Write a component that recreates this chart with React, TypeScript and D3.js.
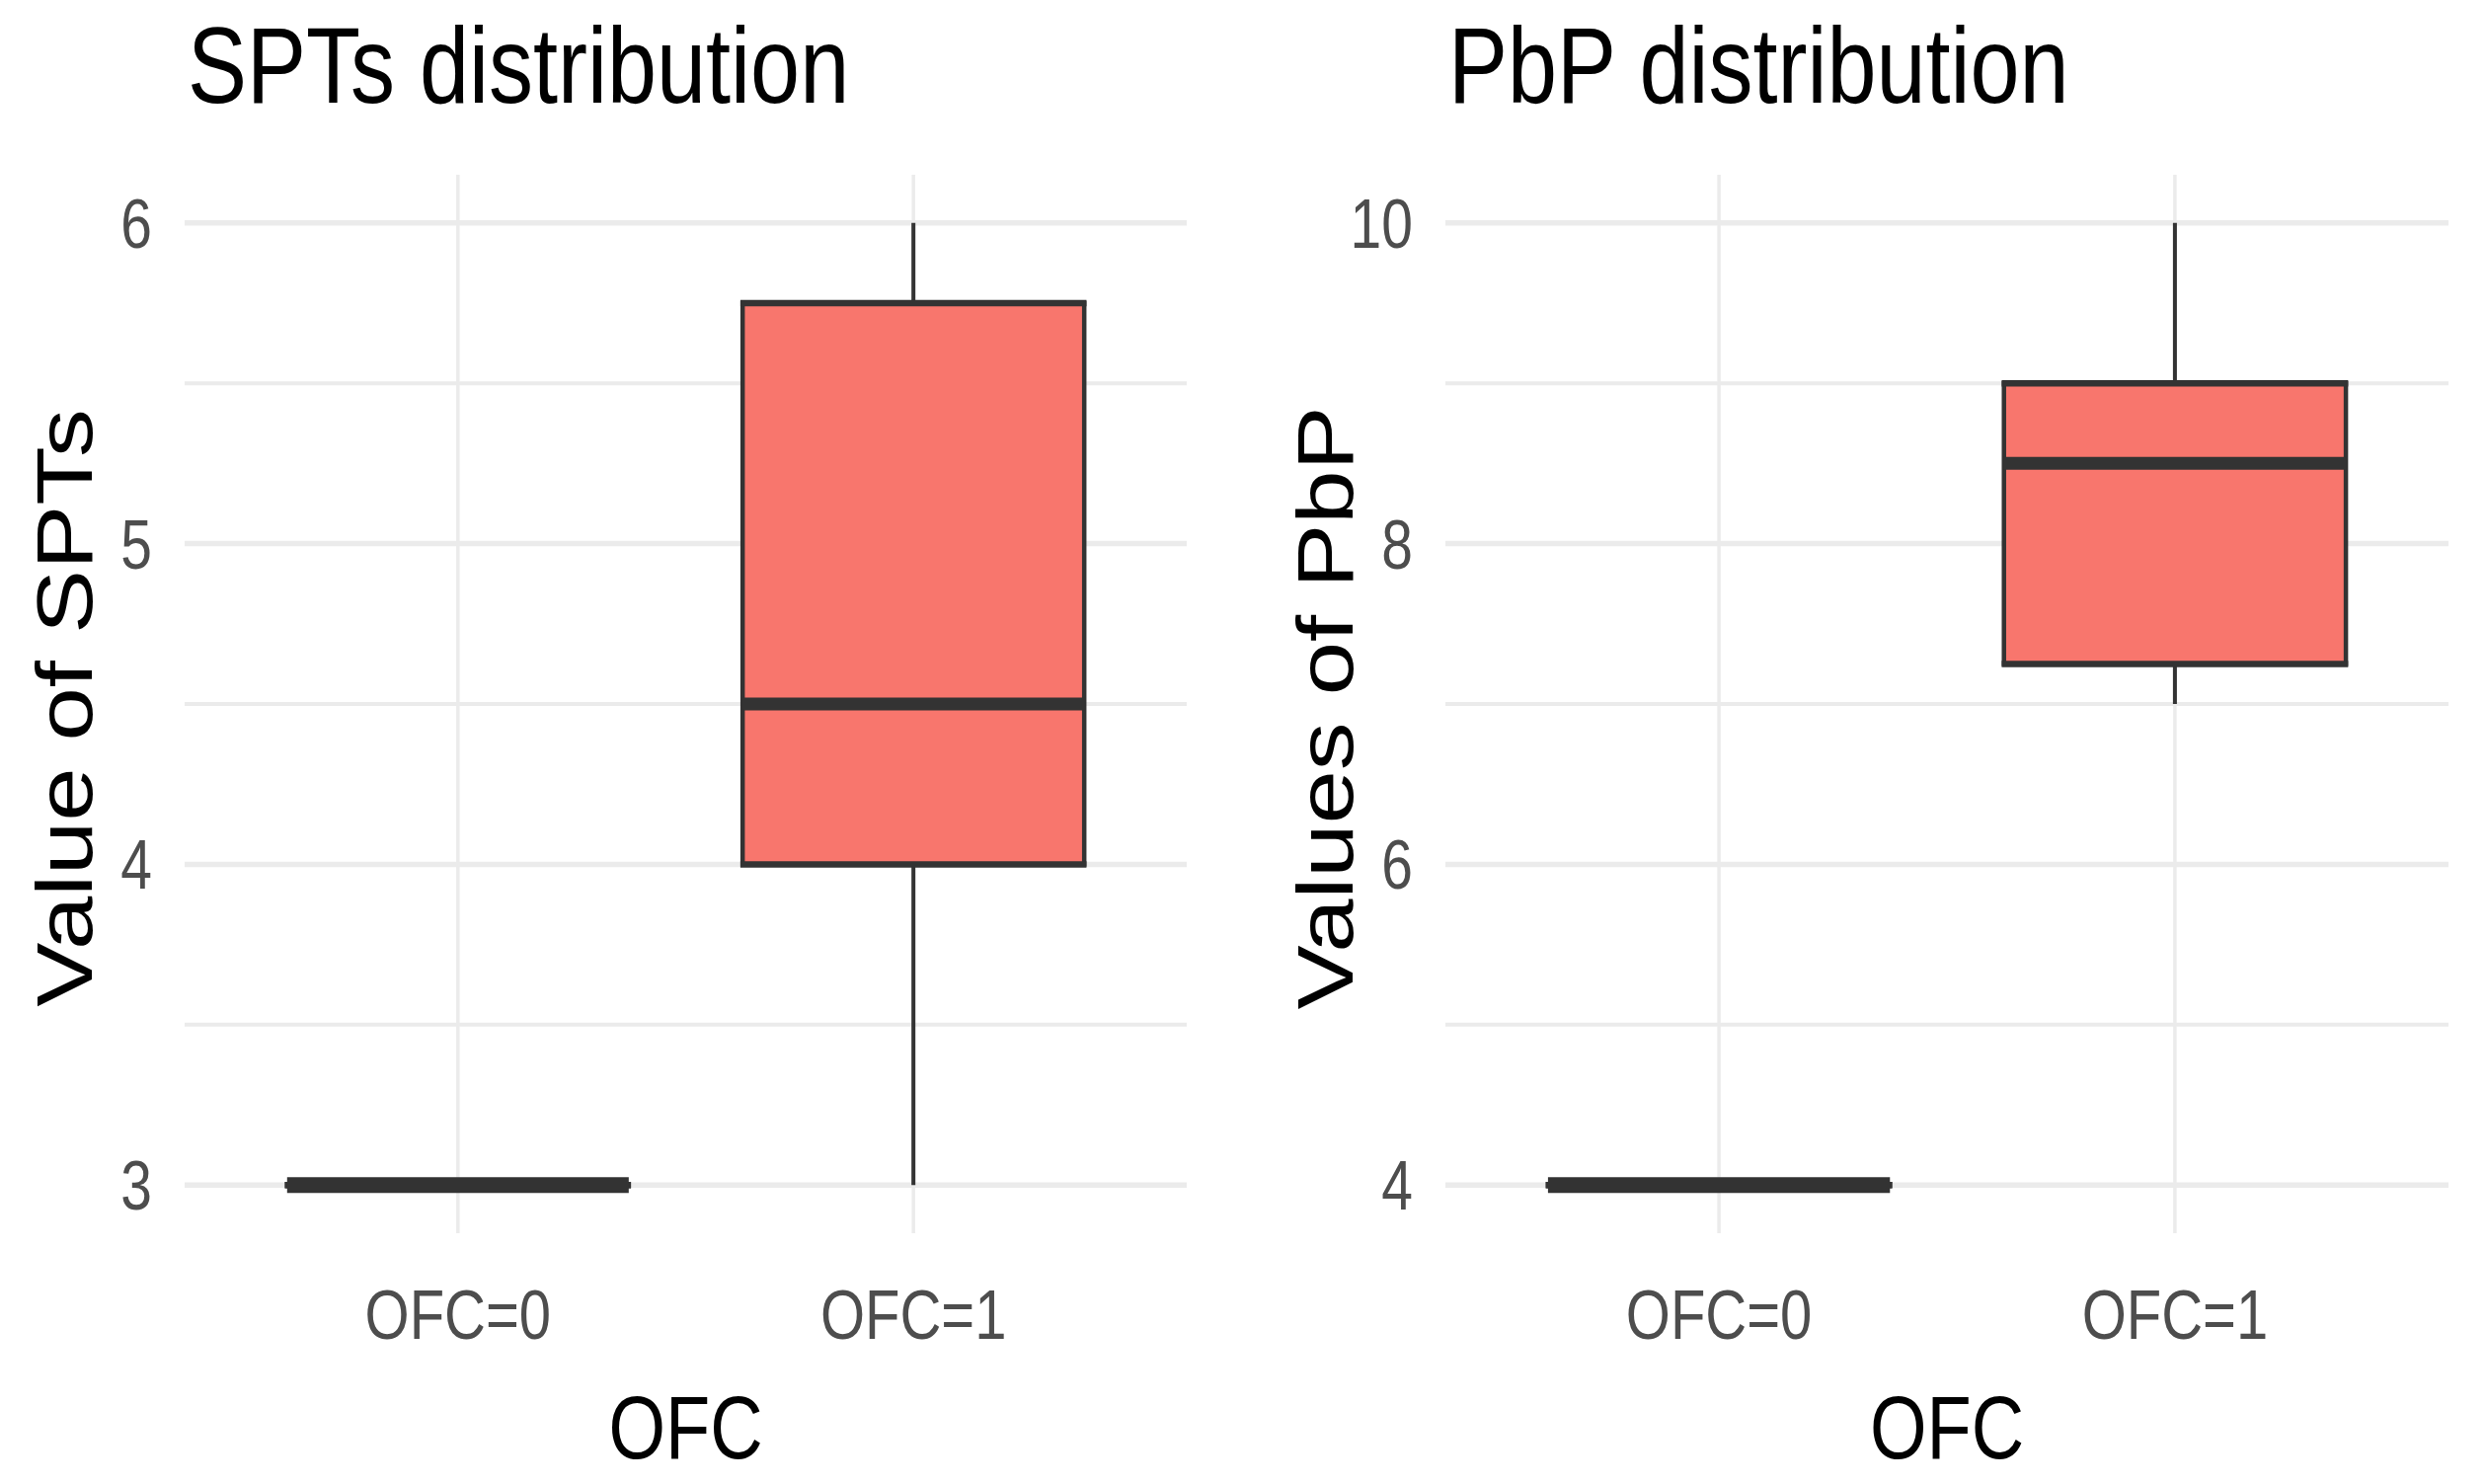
import React, { useEffect, useRef } from 'react';
import * as d3 from 'd3';

// groups on the x axis
const categories = ["OFC=0", "OFC=1"];

// SPTs box statistics, one value per group
const sptsMin = [3, 3];
const sptsQ1 = [3, 4];
const sptsMedian = [3, 4.5];
const sptsQ3 = [3, 5.75];
const sptsMax = [3, 6];
const sptsTicks = [3, 4, 5, 6];
const sptsMinor = [3.5, 4.5, 5.5];

// PbP box statistics
const pbpMin = [4, 7];
const pbpQ1 = [4, 7.25];
const pbpMedian = [4, 8.5];
const pbpQ3 = [4, 9];
const pbpMax = [4, 10];
const pbpTicks = [4, 6, 8, 10];
const pbpMinor = [5, 7, 9];

const W = 2519;
const H = 1503;
const SY = 1.22; // the picture is stretched vertically
const FONT = "'Liberation Sans', Arial, Helvetica, sans-serif";

type PanelSpec = {
    title: string;
    yLabel: string;
    left: number;
    right: number;
    domain: [number, number];
    ticks: number[];
    minor: number[];
    min: number[];
    q1: number[];
    median: number[];
    q3: number[];
    max: number[];
};

const panels: PanelSpec[] = [
    { title: "SPTs distribution", yLabel: "Value of SPTs", left: 187, right: 1202, domain: [3, 6],
      ticks: sptsTicks, minor: sptsMinor, min: sptsMin, q1: sptsQ1, median: sptsMedian, q3: sptsQ3, max: sptsMax },
    { title: "PbP distribution", yLabel: "Values of PbP", left: 1464, right: 2480, domain: [4, 10],
      ticks: pbpTicks, minor: pbpMinor, min: pbpMin, q1: pbpQ1, median: pbpMedian, q3: pbpQ3, max: pbpMax },
];

const top = 177;
const bottom = 1249;

export default function App() {
    const svgRef = useRef<SVGSVGElement | null>(null);

    useEffect(() => {
        if (!svgRef.current) return;
        const svg = d3.select(svgRef.current);
        svg.selectAll("*").remove();

        panels.forEach((p) => {
            const g = svg.append("g");
            const span = p.domain[1] - p.domain[0];
            const yScale = d3.scaleLinear()
                .domain([p.domain[0] - span * 0.05, p.domain[1] + span * 0.05])
                .range([bottom, top]);
            const xScale = d3.scalePoint<string>()
                .domain(categories)
                .range([p.left, p.right])
                .padding(0.6);
            const step = xScale.step();
            const boxW = step * 0.75;

            // minor grid
            g.selectAll(".minor")
                .data(p.minor)
                .join("line")
                .attr("x1", p.left).attr("x2", p.right)
                .attr("y1", d => yScale(d)).attr("y2", d => yScale(d))
                .attr("stroke", "#ebebeb").attr("stroke-width", 4);

            // major grid
            g.selectAll(".major")
                .data(p.ticks)
                .join("line")
                .attr("x1", p.left).attr("x2", p.right)
                .attr("y1", d => yScale(d)).attr("y2", d => yScale(d))
                .attr("stroke", "#ebebeb").attr("stroke-width", 5.5);

            g.selectAll(".vgrid")
                .data(categories)
                .join("line")
                .attr("x1", d => xScale(d)!).attr("x2", d => xScale(d)!)
                .attr("y1", top).attr("y2", bottom)
                .attr("stroke", "#ebebeb").attr("stroke-width", 3.5);

            // y tick labels
            g.selectAll(".ytick")
                .data(p.ticks)
                .join("text")
                .attr("transform", d => `translate(${p.left - 33}, ${yScale(d)}) scale(1, ${SY})`)
                .attr("text-anchor", "end")
                .attr("dy", "0.36em")
                .style("font-family", FONT)
                .style("font-size", "57px")
                .style("fill", "#4d4d4d")
                .text(d => d);

            // x tick labels
            g.selectAll(".xtick")
                .data(categories)
                .join("text")
                .attr("transform", d => `translate(${xScale(d)}, 1356) scale(1, ${SY})`)
                .attr("text-anchor", "middle")
                .style("font-family", FONT)
                .style("font-size", "58px")
                .style("fill", "#4d4d4d")
                .text(d => d);

            // whiskers
            g.selectAll(".whisker")
                .data(categories)
                .join("line")
                .attr("x1", d => xScale(d)!).attr("x2", d => xScale(d)!)
                .attr("y1", (_, i) => yScale(p.min[i])).attr("y2", (_, i) => yScale(p.max[i]))
                .attr("stroke", "#333333").attr("stroke-width", 4);

            // boxes
            g.selectAll(".box")
                .data(categories)
                .join("rect")
                .attr("x", d => xScale(d)! - boxW / 2)
                .attr("width", boxW)
                .attr("y", (_, i) => yScale(p.q3[i]))
                .attr("height", (_, i) => yScale(p.q1[i]) - yScale(p.q3[i]))
                .attr("fill", "#f8766d")
                .attr("stroke", "#333333")
                .attr("stroke-width", 4.5);

            // thicker top and bottom edges
            categories.forEach((c, i) => {
                [p.q1[i], p.q3[i]].forEach((v) => {
                    g.append("line")
                        .attr("x1", xScale(c)! - boxW / 2 - 2.25).attr("x2", xScale(c)! + boxW / 2 + 2.25)
                        .attr("y1", yScale(v)).attr("y2", yScale(v))
                        .attr("stroke", "#333333").attr("stroke-width", 6.5);
                });
            });

            // medians
            g.selectAll(".median")
                .data(categories)
                .join("line")
                .attr("x1", d => xScale(d)! - boxW / 2).attr("x2", d => xScale(d)! + boxW / 2)
                .attr("y1", (_, i) => yScale(p.median[i])).attr("y2", (_, i) => yScale(p.median[i]))
                .attr("stroke", "#333333").attr("stroke-width", (_, i) => p.q1[i] === p.q3[i] ? 16 : 13);

            // titles
            g.append("text")
                .attr("transform", `translate(${p.left + 3}, 104) scale(1, ${SY})`)
                .style("font-family", FONT)
                .style("font-size", "90px")
                .style("fill", "#000")
                .text(p.title);

            g.append("text")
                .attr("transform", `translate(${(p.left + p.right) / 2}, 1477) scale(1, ${SY})`)
                .attr("text-anchor", "middle")
                .style("font-family", FONT)
                .style("font-size", "74px")
                .style("fill", "#000")
                .text("OFC");

            g.append("text")
                .attr("transform", `translate(${p.left - 94}, ${(top + bottom) / 2 + 4}) scale(1, ${SY}) rotate(-90)`)
                .attr("text-anchor", "middle")
                .style("font-family", FONT)
                .style("font-size", "80px")
                .style("fill", "#000")
                .text(p.yLabel);
        });
    }, []);

    return (
        <svg ref={svgRef} width={W} height={H}
            style={{ position: 'absolute', left: 0, top: 0, background: '#fff' }}>
        </svg>
    );
}
